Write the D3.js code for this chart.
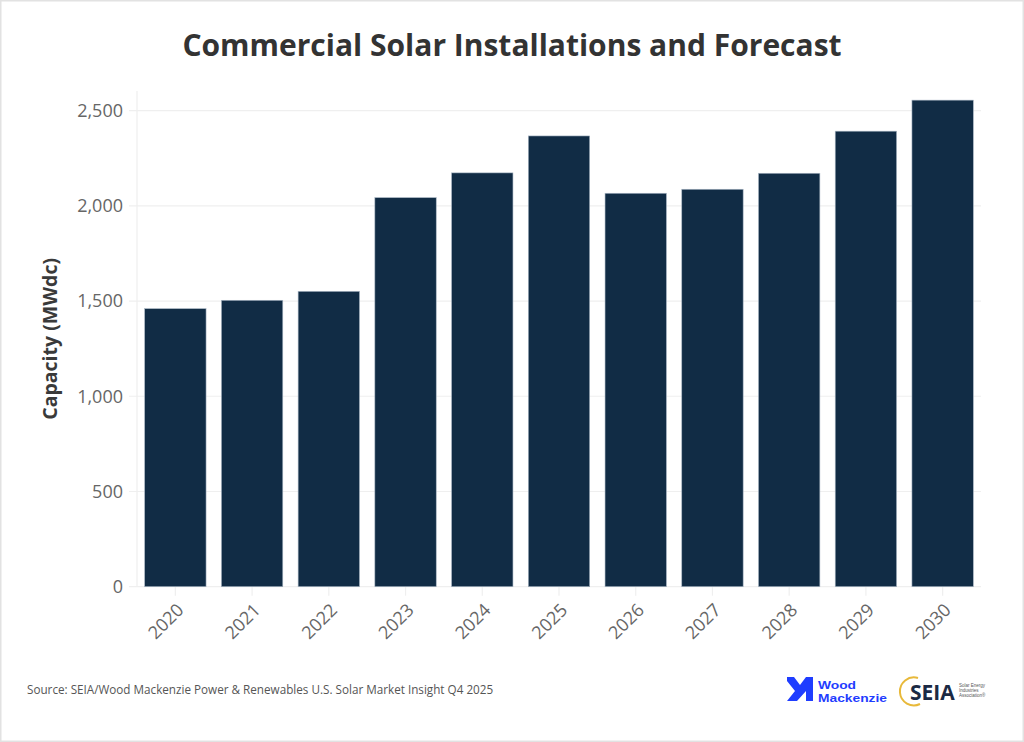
<!DOCTYPE html>
<html>
<head>
<meta charset="utf-8">
<script src="https://cdn.jsdelivr.net/npm/d3@7"></script>
<style>
  html, body { margin: 0; padding: 0; background: #fff; }
  svg { display: block; font-family: "Open Sans", "Noto Sans", sans-serif; }
</style>
</head>
<body>
<svg id="chart" width="1024" height="742"></svg>
<script>
const years = ["2020","2021","2022","2023","2024","2025","2026","2027","2028","2029","2030"];
const capacity = [1460, 1504, 1551, 2043, 2173, 2367, 2066, 2087, 2171, 2392, 2555];
const yTicks = [0, 500, 1000, 1500, 2000, 2500];
const titleText = "Commercial Solar Installations and Forecast";
const yTitle = "Capacity (MWdc)";
const sourceText = "Source: SEIA/Wood Mackenzie Power & Renewables U.S. Solar Market Insight Q4 2025";

const svg = d3.select("#chart");
const W = 1024, H = 742;
const m = {left: 137, right: 43, top: 91, bottom: 155};

// outer border
svg.append("rect").attr("x", 0.75).attr("y", 0.75).attr("width", W - 1.5).attr("height", H - 1.5)
  .attr("fill", "#fff").attr("stroke", "#e2e2e2").attr("stroke-width", 1.5);

const x = d3.scaleBand().domain(years).range([m.left, W - m.right]).paddingInner(0.2).paddingOuter(0.1);
const y = d3.scaleLinear().domain([0, 2603]).range([H - m.bottom - 0.3, m.top]);

// gridlines
svg.append("g").selectAll("line").data(yTicks).join("line")
  .attr("x1", m.left - 8).attr("x2", W - m.right)
  .attr("y1", d => y(d)).attr("y2", d => y(d))
  .attr("stroke", "#efefef").attr("stroke-width", 1.2);

// left axis line
svg.append("line").attr("x1", m.left).attr("x2", m.left)
  .attr("y1", m.top).attr("y2", y(0)).attr("stroke", "#efefef").attr("stroke-width", 1.2);

// y axis labels
const yAxis = d3.axisLeft(y).tickValues(yTicks).tickFormat(d3.format(",")).tickSize(0).tickPadding(14);
const gy = svg.append("g").attr("transform", `translate(${m.left},0)`).call(yAxis);
gy.select(".domain").remove();
gy.selectAll("text").attr("fill", "#666").attr("font-size", 18).attr("font-family", "Open Sans, sans-serif");

// x axis
const xAxis = d3.axisBottom(x).tickSize(9).tickPadding(8);
const gx = svg.append("g").attr("transform", `translate(0,${y(0)})`).call(xAxis);
gx.select(".domain").remove();
gx.selectAll(".tick line").attr("stroke", "#efefef").attr("stroke-width", 1.2);
gx.selectAll("text")
  .attr("fill", "#666").attr("font-size", 18).attr("font-family", "Open Sans, sans-serif")
  .attr("text-anchor", "end").attr("dy", "0.35em")
  .attr("transform", "translate(-7,8) rotate(-45)");

// bars
svg.append("g").selectAll("rect").data(years).join("rect")
  .attr("x", d => x(d)).attr("width", x.bandwidth())
  .attr("y", (d, i) => y(capacity[i]))
  .attr("height", (d, i) => y(0) - y(capacity[i]))
  .attr("fill", "#112c45").attr("stroke", "#a9b6c4").attr("stroke-width", 0.6);

// title
svg.append("text").attr("x", 512).attr("y", 56).attr("text-anchor", "middle")
  .attr("font-size", 30).attr("font-weight", 700).attr("fill", "#333").text(titleText);

// y title
svg.append("text").attr("transform", `translate(57,${(m.top + y(0)) / 2}) rotate(-90)`)
  .attr("text-anchor", "middle").attr("font-size", 19.5).attr("font-weight", 700)
  .attr("fill", "#3a3a3a").text(yTitle);

// source
svg.append("text").attr("x", 27).attr("y", 694).attr("font-size", 11.7)
  .attr("fill", "#555").text(sourceText);

// Wood Mackenzie logo
const wm = svg.append("g").attr("transform", "translate(787,677)");
wm.append("path").attr("d", "M0,0 L7,0 L13,8 L19,0 L26,0 L26,24 L19,24 L19,14 L10,24 L0,24 L8,14 L0,4 Z")
  .attr("fill", "#1f3dff");
const wmt = wm.append("g").attr("transform", "translate(31,0) scale(1.2,1)")
  .append("text").attr("font-family", "Liberation Sans, Arial, sans-serif")
  .attr("font-size", 11.5).attr("font-weight", 700).attr("fill", "#1f3dff");
wmt.append("tspan").attr("x", 0).attr("y", 12).text("Wood");
wmt.append("tspan").attr("x", 0).attr("y", 25).text("Mackenzie");

// SEIA logo
const se = svg.append("g").attr("transform", "translate(900,676)");
se.append("path").attr("d", "M18,2 A14,14 0 1,0 20,28").attr("fill", "none")
  .attr("stroke", "#e8b93a").attr("stroke-width", 2);
se.append("text").attr("x", 10).attr("y", 24).attr("font-size", 21).attr("font-weight", 700)
  .attr("fill", "#1b2a44").text("SEIA");
const st = se.append("text").attr("font-family", "Liberation Sans, Arial, sans-serif")
  .attr("font-size", 4.5).attr("fill", "#555");
st.append("tspan").attr("x", 59).attr("y", 10.5).text("Solar Energy");
st.append("tspan").attr("x", 59).attr("y", 15.8).text("Industries");
st.append("tspan").attr("x", 59).attr("y", 21.1).text("Association®");
</script>
</body>
</html>
